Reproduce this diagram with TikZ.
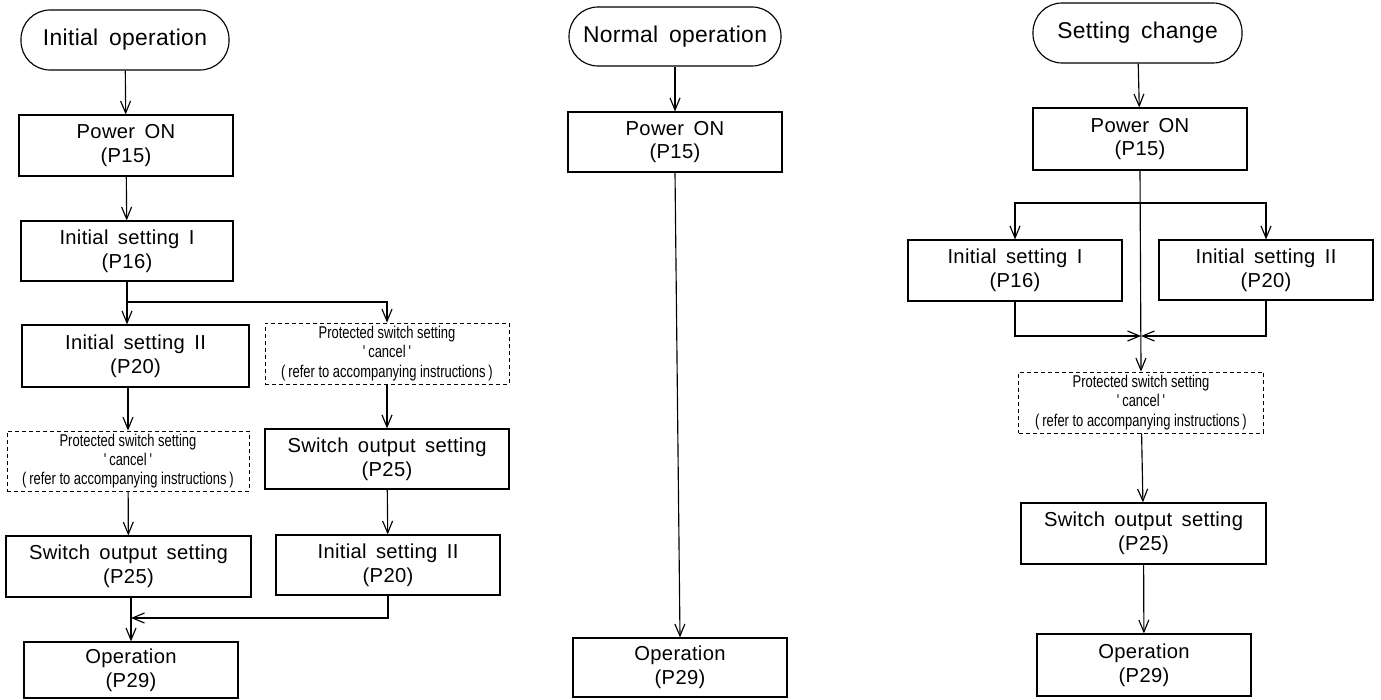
\documentclass[tikz,border=0pt]{standalone}
\usepackage{fontspec}
\setmainfont{Liberation Sans}[LetterSpace=1.5,WordSpace=1.6]
\newfontfamily\notefont{Liberation Sans}[FakeStretch=0.76]
\usetikzlibrary{arrows.meta}

\begin{document}
\begin{tikzpicture}[x=0.02cm,y=-0.02cm,line width=0.65pt,
  >={Straight Barb[length=0.24cm,width=0.2cm]},
  wh/.style 2 args={minimum width=#1*0.02cm,minimum height=#2*0.02cm},
  termbox/.style={draw,rounded corners=0.58cm,inner sep=0pt,font=\fontsize{13}{15}\selectfont},
  stepbox/.style={draw,align=center,inner sep=0pt,font=\fontsize{11.5}{13.4}\selectfont},
  notebox/.style={draw,line width=0.45pt,dash pattern=on 0.08cm off 0.06cm,align=center,inner sep=0pt,
    font=\notefont\fontsize{9.7}{10.9}\selectfont}]
\useasboundingbox (0,0) rectangle (1381,699);

% initial operation
\node[termbox,wh={208}{60}] (t1) at (125,40) {Initial operation};
\node[stepbox,wh={214}{61}] (p1) at (126,145.5) {Power ON\\(P15)};
\node[stepbox,wh={212}{60}] (a1) at (127,251) {Initial setting I\\(P16)};
\node[stepbox,wh={227}{62}] (b1) at (135.5,356) {Initial setting II\\(P20)};
\node[notebox,wh={242}{60}] (d1) at (128,461) {Protected switch setting\\'\,cancel\,'\\(\,refer to accompanying instructions\,)};
\node[stepbox,wh={245}{61}] (s1) at (128.5,566.5) {Switch output setting\\(P25)};
\node[stepbox,wh={214}{56}] (o1) at (131,670) {Operation\\(P29)};
\node[notebox,wh={244}{61}] (d2) at (387,353.5) {Protected switch setting\\'\,cancel\,'\\(\,refer to accompanying instructions\,)};
\node[stepbox,wh={244}{60}] (s2) at (387,459) {Switch output setting\\(P25)};
\node[stepbox,wh={224}{60}] (b2) at (388,565) {Initial setting II\\(P20)};
\coordinate (br1) at (127,302);
\coordinate (mg1) at (131,618);

\draw[->] (t1) -- (p1);
\draw[->] (p1) -- (a1);
\draw[->] (a1.south) -- (a1.south |- b1.north);
\draw[->] (br1) -| (d2.north);
\draw[->] (d1.north |- b1.south) -- (d1.north);
\draw[->] (d1) -- (s1);
\draw[->] (o1.north |- s1.south) -- (o1.north);
\draw[->] (d2) -- (s2);
\draw[->] (s2) -- (b2);
\draw[->] (b2.south) |- (mg1);

% normal operation
\node[termbox,wh={212}{59}] (t2) at (675,36.5) {Normal operation};
\node[stepbox,wh={214}{60}] (p2) at (675,142) {Power ON\\(P15)};
\node[stepbox,wh={214}{59}] (o2) at (680,667.5) {Operation\\(P29)};

\draw[->] (t2) -- (p2);
\draw[->] (p2.south) -- (o2.north);

% setting change
\node[termbox,wh={209}{60}] (t3) at (1137.5,33) {Setting change};
\node[stepbox,wh={214}{62}] (p3) at (1140,139) {Power ON\\(P15)};
\node[stepbox,wh={214}{61}] (a3) at (1015,270.5) {Initial setting I\\(P16)};
\node[stepbox,wh={214}{60}] (b3) at (1266,270) {Initial setting II\\(P20)};
\node[notebox,wh={245}{61}] (d3) at (1141,402.5) {Protected switch setting\\'\,cancel\,'\\(\,refer to accompanying instructions\,)};
\node[stepbox,wh={245}{61}] (s3) at (1143.5,533.5) {Switch output setting\\(P25)};
\node[stepbox,wh={214}{62}] (o3) at (1144,665) {Operation\\(P29)};
\coordinate (br3) at (1140,203);
\coordinate (mg3) at (1141,336);

\draw[->] (t3) -- (p3);
\draw[->] (br3) -| (a3.north);
\draw[->] (br3) -| (b3.north);
\draw[->] (p3.south) -- (d3.north);
\draw[->] (a3.south) |- (mg3);
\draw[->] (b3.south) |- (mg3);
\draw[->] (d3) -- (s3);
\draw[->] (s3) -- (o3);
\end{tikzpicture}
\end{document}
